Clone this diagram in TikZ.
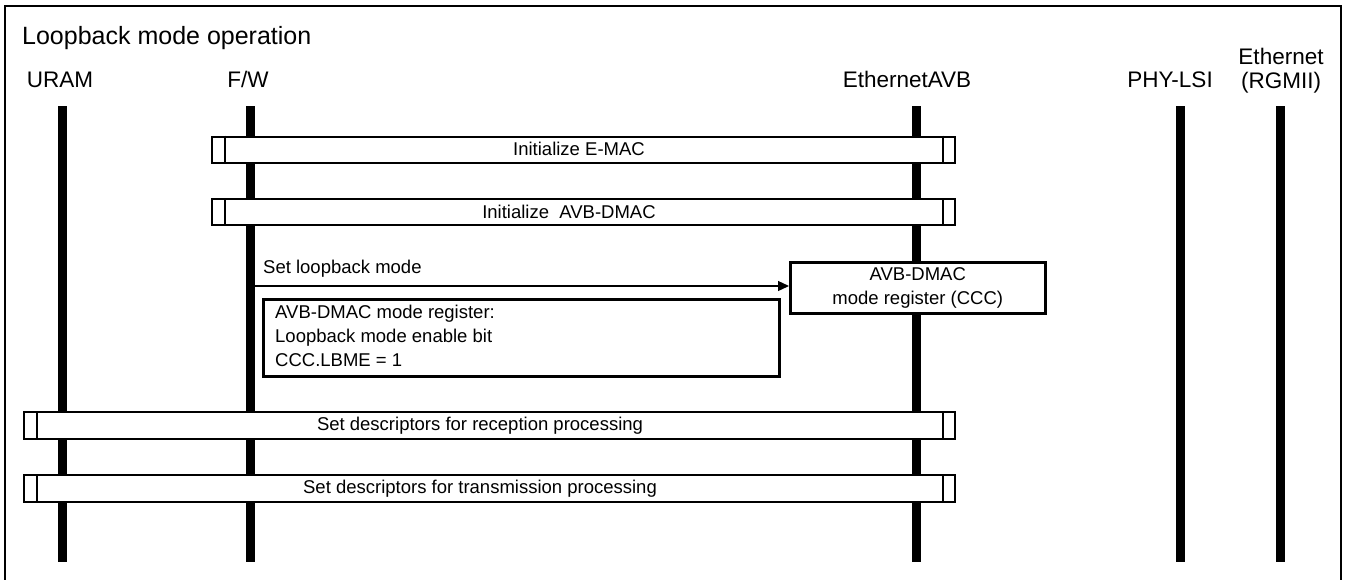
\documentclass[tikz,border=0pt]{standalone}
\usepackage{fontspec}
\setmainfont{Liberation Sans}
\usetikzlibrary{arrows.meta}
\begin{document}
\begin{tikzpicture}[x=1pt,y=-1pt,
  lifeline/.style={line width=9pt},
  bar/.style={draw, line width=2.2pt, fill=white, inner sep=0pt, anchor=north west},
  regbox/.style={draw, line width=2.5pt, fill=white, inner sep=0pt, anchor=north west},
  lbl/.style={inner sep=0pt, font=\fontsize{18.5}{24}\selectfont},
  head/.style={inner sep=0pt, font=\fontsize{22.5}{24}\selectfont, anchor=base},
  msg/.style={line width=1.3pt, -{Triangle[length=11pt,width=10pt]}}]
\clip (0,0) rectangle (1346,579);
\draw[line width=2pt] (5,6) rectangle (1341,620);
% title
\node[inner sep=0pt, font=\fontsize{25}{28}\selectfont, anchor=base west] (title) at (22,44) {Loopback mode operation};
% lifeline heads
\node[head] (hU) at (60,87) {URAM};
\node[head] (hF) at (248,87) {F/W};
\node[head] (hE) at (907,87) {EthernetAVB};
\node[head] (hP) at (1170,87) {PHY-LSI};
\node[head] (hR) at (1281,88) {(RGMII)};
\node[head] (hR2) at (1281,64) {Ethernet};
% lifelines
\coordinate (uT) at (62,106);  \coordinate (uB) at (62,562);
\coordinate (fT) at (250,106); \coordinate (fB) at (250,562);
\coordinate (eT) at (916,106); \coordinate (eB) at (916,562);
\coordinate (pT) at (1180,106); \coordinate (pB) at (1180,562);
\coordinate (rT) at (1280,106); \coordinate (rB) at (1280,562);
\foreach \a/\b in {uT/uB,fT/fB,eT/eB,pT/pB,rT/rB} \draw[lifeline] (\a) -- (\b);
% bars
\node[bar, minimum width=743pt, minimum height=26pt] (emac) at (211,135.5) {};
\node[bar, minimum width=743pt, minimum height=26pt] (dmac) at (211,198) {};
\node[bar, minimum width=931pt, minimum height=26.5pt] (rx) at (23,411) {};
\node[bar, minimum width=931pt, minimum height=26.5pt] (tx) at (23,474) {};
\foreach \n in {emac,dmac,rx,tx} {
  \draw[line width=2.2pt] ([xshift=14pt]\n.north west) -- ([xshift=14pt]\n.south west);
  \draw[line width=2.2pt] ([xshift=-13pt]\n.north east) -- ([xshift=-13pt]\n.south east);
}
\node[lbl] (temac) at (579,149) {Initialize E-MAC};
\node[lbl] (tdmac) at (569,211.5) {Initialize\ \ AVB-DMAC};
\node[lbl] (trx) at (480,425.5) {Set descriptors for reception processing};
\node[lbl] (ttx) at (480,488.5) {Set descriptors for transmission processing};
% register box
\node[regbox, minimum width=255pt, minimum height=51pt] (ccc) at (789,261) {};
\node[lbl, align=center] (tccc) at (ccc.center) {AVB-DMAC\\mode register (CCC)};
% message
\coordinate (mstart) at (254.5,286);
\draw[msg] (mstart) -- (mstart -| ccc.west);
\node[lbl, anchor=base west] (tmsg) at (263,273) {Set loopback mode};
% note box
\node[regbox, minimum width=516pt, minimum height=77pt] (note) at (262,298) {};
\node[lbl, anchor=north west, align=left] (tnote) at (275,305) {AVB-DMAC mode register:\\Loopback mode enable bit\\CCC.LBME = 1};
\end{tikzpicture}
\end{document}
